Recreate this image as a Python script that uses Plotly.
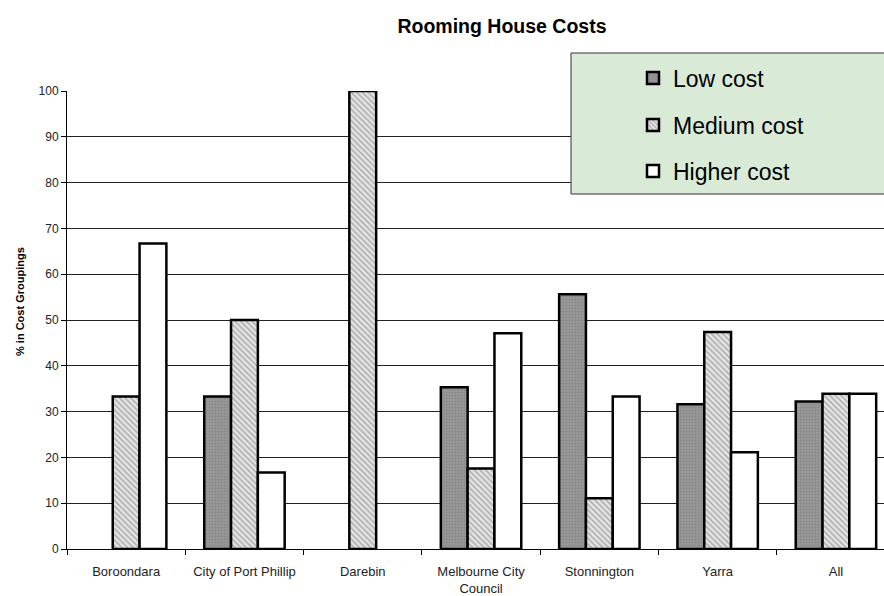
import plotly.graph_objects as go

categories = ["Boroondara", "City of Port Phillip", "Darebin", "Melbourne City<br>Council",
              "Stonnington", "Yarra", "All"]
low_cost = [0, 33.3, 0, 35.3, 55.6, 31.6, 32.2]
medium_cost = [33.3, 50.0, 100.0, 17.6, 11.1, 47.4, 33.9]
higher_cost = [66.7, 16.7, 0, 47.1, 33.3, 21.1, 33.9]
y_ticks = [0, 10, 20, 30, 40, 50, 60, 70, 80, 90, 100]

W, H = 884, 596
L, R, T, B = 67, 0, 91, 47
font_fam = "Arial, Liberation Sans, sans-serif"


def hide_zero(vals):
    # zero-height bars are not drawn in the reference
    return [v if v != 0 else None for v in vals]


fig = go.Figure()
line = dict(color="black", width=2.5)
fig.add_trace(go.Bar(name="Low cost", x=categories, y=hide_zero(low_cost), legend="legend",
                     marker=dict(color="#8a8a8a", line=line,
                                 pattern=dict(shape=".", fgcolor="#6f6f6f", bgcolor="#9a9a9a",
                                              size=3, solidity=0.4))))
fig.add_trace(go.Bar(name="Medium cost", x=categories, y=hide_zero(medium_cost), legend="legend2",
                     marker=dict(color="white", line=line,
                                 pattern=dict(shape="\\", fgcolor="#7a7a7a", bgcolor="#e6e6e6",
                                              size=4, solidity=0.45))))
fig.add_trace(go.Bar(name="Higher cost", x=categories, y=hide_zero(higher_cost), legend="legend3",
                     marker=dict(color="white", line=line)))

plot_w = W - L - R
plot_h = H - T - B
cat_px = 118.3
x_hi = -0.5 + plot_w / cat_px

leg_font = dict(family=font_fam, size=23, color="black")
def leg(ypx):
    return dict(x=633 / W, y=1 - ypx / H, xref="container", yref="container",
                xanchor="left", yanchor="middle", bgcolor="rgba(0,0,0,0)",
                font=leg_font, borderwidth=0)

fig.update_layout(
    width=W, height=H,
    margin=dict(l=L, r=R, t=T, b=B, autoexpand=False),
    paper_bgcolor="white", plot_bgcolor="white",
    barmode="group", bargap=0.32, bargroupgap=0,
    showlegend=True,
    legend=leg(78), legend2=leg(125), legend3=leg(171),
    font=dict(family=font_fam, size=12, color="#222"),
    title=dict(text="<b>Rooming House Costs</b>", x=502 / W, xref="container", xanchor="center",
               y=1 - 26 / H, yref="container", yanchor="middle",
               font=dict(family=font_fam, size=19.5, color="black")),
    xaxis=dict(range=[-0.5, x_hi], showline=True, linecolor="black", linewidth=1,
               ticks="outside", tickson="boundaries", ticklen=5, tickcolor="black",
               ticklabelstandoff=10,
               showgrid=False, tickfont=dict(size=13, color="#222"), fixedrange=True),
    yaxis=dict(range=[0, 100], tickvals=y_ticks, showline=True, linecolor="black", linewidth=1,
               ticks="outside", ticklen=5, tickcolor="black",
               showgrid=True, gridcolor="#222", gridwidth=1, zeroline=False,
               tickfont=dict(size=12, color="#222"), fixedrange=True),
    shapes=[dict(type="rect", xref="paper", yref="paper",
                 x0=(571 - L) / plot_w, x1=1.1,
                 y0=(549 - 194) / plot_h, y1=(549 - 53) / plot_h,
                 fillcolor="#d9ead7", line=dict(color="#333", width=1), layer="above")],
    annotations=[dict(text="<b>% in Cost Groupings</b>", textangle=-90,
                      x=(20 - L) / plot_w, y=(549 - 302) / plot_h,
                      xref="paper", yref="paper", xanchor="center", yanchor="middle",
                      showarrow=False, font=dict(family=font_fam, size=11, color="black"))],
)

fig.write_html("out.html", config={"displayModeBar": False})
